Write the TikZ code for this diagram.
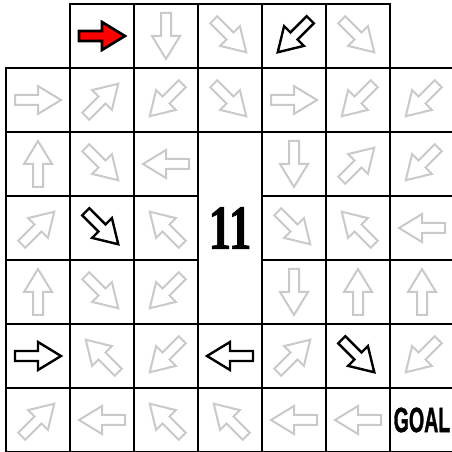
\documentclass[tikz,border=0pt]{standalone}
\usepackage{fontspec}
\usepackage{graphicx}
\newfontfamily\numfont[BoldFeatures={FakeBold=1.3}]{Liberation Serif}
\newfontfamily\goalfont[BoldFeatures={FakeBold=1.6}]{Liberation Sans}
\begin{document}
\begin{tikzpicture}[x=1pt,y=1pt,
  cell/.style={draw=black, line width=2.2pt, minimum size=64pt, inner sep=0pt, outer sep=0pt, rectangle},
  garr/.style={draw=black!21, line width=2pt, fill=white, line join=miter},
  barr/.style={draw=black, line width=2.4pt, fill=white, line join=miter},
  rarr/.style={draw=black, line width=2.6pt, fill=red, line join=miter}]
\fill[white] (0,0) rectangle (452,452);
\useasboundingbox (0,0) rectangle (452,452);
\clip (0,0) rectangle (452,452);
% top row cells
\foreach \c in {1,...,5} {
  \node[cell] (c0\c) at ({38+64*\c},416) {};
}
% rows 1..6
\foreach \r in {1,...,6} {
  \foreach \c in {0,...,6} {
    \ifnum\r>1 \ifnum\r<5 \ifnum\c=3 \else
      \node[cell] (c\r\c) at ({38+64*\c},{416-64*\r}) {};
    \fi \else
      \node[cell] (c\r\c) at ({38+64*\c},{416-64*\r}) {};
    \fi \else
      \node[cell] (c\r\c) at ({38+64*\c},{416-64*\r}) {};
    \fi
  }
}
% merged middle cell
\node[cell, minimum width=64pt, minimum height=192pt] (mid) at (230,224)
  {\scalebox{0.72}[1]{\fontsize{63}{63}\selectfont\numfont\bfseries 11}};
\node (goal) at (c66.center) {\scalebox{0.56}[1]{\fontsize{35}{35}\selectfont\goalfont\bfseries GOAL}};
% arrows
\foreach \r/\c/\a/\s in {
  0/1/0/rarr, 0/2/270/garr, 0/3/315/garr, 0/4/225/barr, 0/5/315/garr,
  1/0/0/garr, 1/1/45/garr, 1/2/225/garr, 1/3/315/garr, 1/4/0/garr, 1/5/225/garr, 1/6/225/garr,
  2/0/90/garr, 2/1/315/garr, 2/2/180/garr, 2/4/270/garr, 2/5/45/garr, 2/6/225/garr,
  3/0/45/garr, 3/1/315/barr, 3/2/135/garr, 3/4/315/garr, 3/5/135/garr, 3/6/180/garr,
  4/0/90/garr, 4/1/315/garr, 4/2/225/garr, 4/4/270/garr, 4/5/90/garr, 4/6/90/garr,
  5/0/0/barr, 5/1/135/garr, 5/2/225/garr, 5/3/180/barr, 5/4/45/garr, 5/5/315/barr, 5/6/225/garr,
  6/0/45/garr, 6/1/180/garr, 6/2/135/garr, 6/3/135/garr, 6/4/180/garr, 6/5/180/garr} {
  \draw[\s, shift={(c\r\c.center)}, rotate=\a]
    (-23,-5) -- (0,-5) -- (0,-14) -- (23,0) -- (0,14) -- (0,5) -- (-23,5) -- cycle;
}
\end{tikzpicture}
\end{document}
